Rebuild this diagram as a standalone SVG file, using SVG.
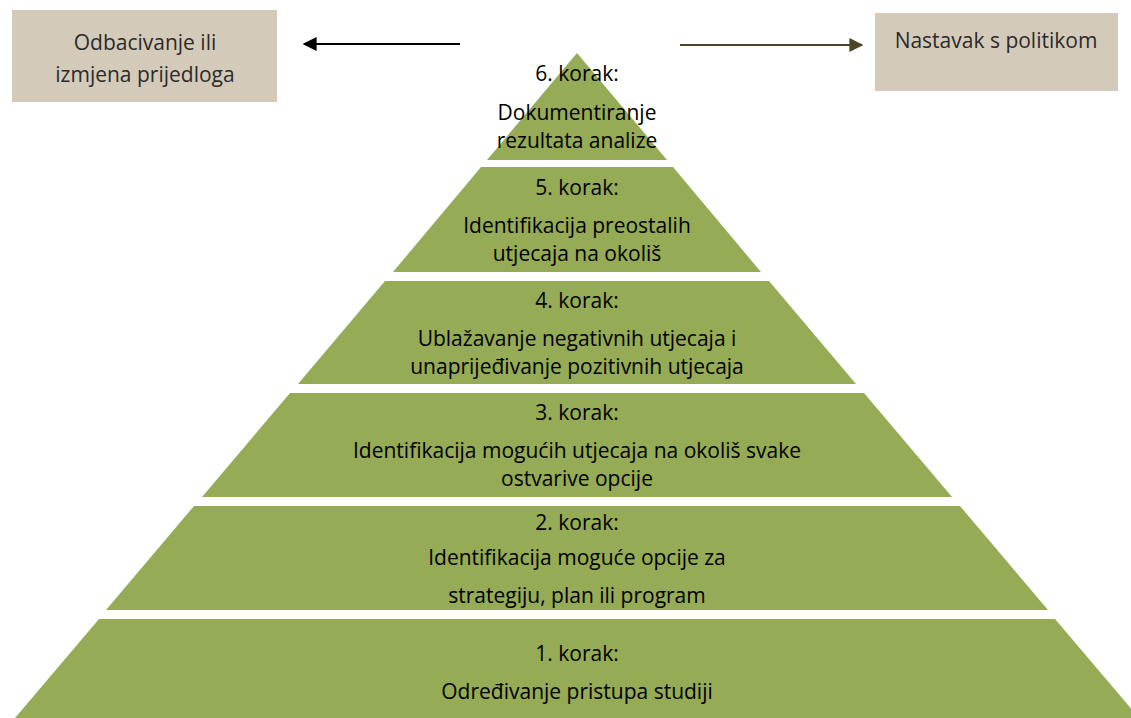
<svg xmlns="http://www.w3.org/2000/svg" width="1131" height="718" viewBox="0 0 1131 718">
<style>
.lvl{fill:#96AB55}
.box{fill:#D4CAB9}
.t{font-family:"Open Sans","Liberation Sans",Arial,sans-serif;font-size:21px;fill:#000;text-anchor:middle}
.bt{font-family:"Open Sans","Liberation Sans",Arial,sans-serif;font-size:21px;fill:#2b2b2b;text-anchor:middle}
</style>
<defs>
<marker id="ahB" viewBox="0 0 10 10" refX="9" refY="5" markerWidth="7" markerHeight="7" orient="auto"><path d="M0,0L10,5L0,10z" fill="#000"/></marker>
<marker id="ahG" viewBox="0 0 10 10" refX="9" refY="5" markerWidth="7" markerHeight="7" orient="auto"><path d="M0,0L10,5L0,10z" fill="#4A4627"/></marker>
</defs>
<rect width="1131" height="718" fill="#fff"/>
<g id="box-left"><rect class="box" x="12" y="10" width="265" height="92"/><text class="bt" x="145" y="50">Odbacivanje ili</text><text class="bt" x="145" y="82">izmjena prijedloga</text></g>
<g id="box-right"><rect class="box" x="875" y="13" width="243" height="78"/><text class="bt" x="996" y="48">Nastavak s politikom</text></g>
<g id="connectors">
<line x1="460" y1="44" x2="304" y2="44" stroke="#000" stroke-width="2" marker-end="url(#ahB)"/>
<line x1="680" y1="45" x2="862" y2="45" stroke="#4A4627" stroke-width="2" marker-end="url(#ahG)"/>
</g>
<g id="level6"><polygon class="lvl" points="577,53 667,160 487,160"/><text class="t" x="577" y="81">6. korak:</text><text class="t" x="577" y="120">Dokumentiranje</text><text class="t" x="577" y="148">rezultata analize</text></g>
<g id="level5"><polygon class="lvl" points="481,167 673,167 761,272 393,272"/><text class="t" x="577" y="195">5. korak:</text><text class="t" x="577" y="233">Identifikacija preostalih</text><text class="t" x="577" y="261">utjecaja na okoliš</text></g>
<g id="level4"><polygon class="lvl" points="385,281 769,281 856,384 298,384"/><text class="t" x="577" y="308">4. korak:</text><text class="t" x="577" y="346">Ublažavanje negativnih utjecaja i</text><text class="t" x="577" y="374">unaprijeđivanje pozitivnih utjecaja</text></g>
<g id="level3"><polygon class="lvl" points="290,393 864,393 952,497 202,497"/><text class="t" x="577" y="420">3. korak:</text><text class="t" x="577" y="458">Identifikacija mogućih utjecaja na okoliš svake</text><text class="t" x="577" y="486">ostvarive opcije</text></g>
<g id="level2"><polygon class="lvl" points="194,506 960,506 1048,610 106,610"/><text class="t" x="577" y="530">2. korak:</text><text class="t" x="577" y="565">Identifikacija moguće opcije za</text><text class="t" x="577" y="603">strategiju, plan ili program</text></g>
<g id="level1"><polygon class="lvl" points="99,619 1055,619 1139,718 15,718"/><text class="t" x="577" y="661">1. korak:</text><text class="t" x="577" y="699">Određivanje pristupa studiji</text></g>
</svg>
